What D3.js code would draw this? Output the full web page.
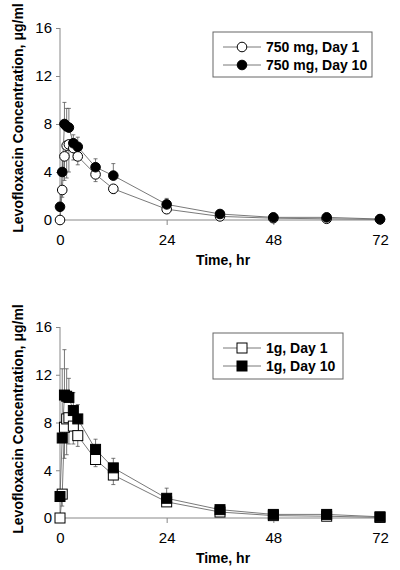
<!DOCTYPE html>
<html><head><meta charset="utf-8">
<script src="https://cdn.jsdelivr.net/npm/d3@7"></script>
<style>
body{margin:0;background:#fff;}
svg{display:block;font-family:"Liberation Sans",Arial,sans-serif;}
</style></head>
<body><svg id="c" width="400" height="570"></svg>
<script>
const times = [0, 0.5, 1, 1.5, 2, 3, 4, 8, 12, 24, 36, 48, 60, 72];
const xTicks = [0, 24, 48, 72];
const yTicks = [0, 4, 8, 12, 16];

const day1_750 = [0, 2.5, 5.3, 6.2, 6.3, 6.0, 5.3, 3.8, 2.6, 0.9, 0.3, 0.15, 0.1, 0.05];
const day10_750 = [1.1, 4.0, 8.0, 7.8, 7.7, 6.4, 6.1, 4.4, 3.7, 1.3, 0.5, 0.22, 0.22, 0.08];
const sd1_750 = [0, 0.6, 2.0, 2.7, 2.3, 1.0, 0.7, 0.6, 0.4, 0.3, 0.1, 0.05, 0.05, 0.03];
const sd10_750 = [0.3, 1.5, 1.8, 1.5, 1.6, 0.7, 0.8, 0.7, 1.0, 0.5, 0.2, 0.1, 0.1, 0.05];

const day1_1g = [0, 2.0, 7.6, 8.3, 8.4, 7.7, 6.9, 4.9, 3.6, 1.35, 0.5, 0.2, 0.15, 0.05];
const day10_1g = [1.8, 6.7, 10.3, 10.2, 10.1, 9.0, 8.3, 5.75, 4.2, 1.65, 0.7, 0.3, 0.3, 0.1];
const sd1_1g = [0, 1.0, 2.6, 3.0, 2.2, 1.5, 0.9, 0.6, 0.8, 0.3, 0.1, 0.05, 0.05, 0.03];
const sd10_1g = [0.5, 5.8, 3.8, 2.3, 1.6, 1.5, 1.2, 0.85, 0.8, 0.85, 0.3, 0.1, 0.1, 0.05];

const legend750 = ["750 mg, Day 1", "750 mg, Day 10"];
const legend1g = ["1g, Day 1", "1g, Day 10"];
const yTitle = "Levofloxacin Concentration, \u03bcg/ml";
const xTitle = "Time, hr";

const svg = d3.select("#c");
const LINE = "#6a6a6a";

function panel(cfg){
  const x = d3.scaleLinear().domain([0,72]).range([60,380]);
  const y = d3.scaleLinear().domain([0,16]).range([cfg.y0, cfg.y16]);
  const g = svg.append("g");

  // y axis
  const ya = g.append("g").attr("transform","translate(60,0)")
    .call(d3.axisLeft(y).tickValues(yTicks).tickSize(4).tickPadding(4));
  ya.select(".domain").attr("stroke","#888").attr("d",`M0,${y(0)}V${y(16)}`);
  ya.selectAll(".tick line").attr("stroke","#888");
  ya.selectAll(".tick text").attr("font-size",15).attr("fill","#000")
    .attr("font-family","'Liberation Sans',Arial,sans-serif");

  // x axis
  const xa = g.append("g").attr("transform",`translate(0,${y(0)})`)
    .call(d3.axisBottom(x).tickValues(xTicks).tickSize(5).tickPadding(9));
  xa.select(".domain").attr("stroke","#888").attr("d",`M${x(0)},0H${x(72)}`);
  xa.selectAll(".tick line").attr("stroke","#888");
  xa.selectAll(".tick text").attr("font-size",15).attr("fill","#000")
    .attr("font-family","'Liberation Sans',Arial,sans-serif");
  xa.selectAll(".tick").filter(d=>d===0).select("line").remove();

  g.append("text").attr("x",223).attr("y",y(0)+45).attr("text-anchor","middle")
    .attr("font-size",14).attr("font-weight","bold").text(xTitle);
  g.append("text").attr("transform",`translate(23,${cfg.tc}) rotate(-90)`)
    .attr("text-anchor","middle").attr("font-size",14).attr("font-weight","bold").text(yTitle);

  const line = d3.line().x(d=>x(d[0])).y(d=>y(d[1]));
  const s1 = times.map((t,i)=>[t,cfg.d1[i],cfg.sd1[i]]);
  const s10 = times.map((t,i)=>[t,cfg.d10[i],cfg.sd10[i]]);

  [s1,s10].forEach(s=>g.append("path").attr("d",line(s)).attr("fill","none")
    .attr("stroke",LINE).attr("stroke-width",0.9));

  // error bars
  function bars(s, dir){
    s.forEach(d=>{
      if(d[2]<=0) return;
      const yv = y(d[1] + dir*d[2]);
      g.append("line").attr("x1",x(d[0])).attr("x2",x(d[0])).attr("y1",y(d[1])).attr("y2",yv)
        .attr("stroke","#555").attr("stroke-width",0.8);
      g.append("line").attr("x1",x(d[0])-2).attr("x2",x(d[0])+2).attr("y1",yv).attr("y2",yv)
        .attr("stroke","#555").attr("stroke-width",0.8);
    });
  }
  bars(s1,-1); bars(s10,1);

  function marker(sel, cx, cy, filled){
    if(cfg.shape==="circle"){
      sel.append("circle").attr("cx",cx).attr("cy",cy).attr("r",4.8)
        .attr("fill",filled?"#000":"#fff").attr("stroke","#000").attr("stroke-width",1);
    } else {
      sel.append("rect").attr("x",cx-5).attr("y",cy-5).attr("width",10).attr("height",10)
        .attr("fill",filled?"#000":"#fff").attr("stroke","#000").attr("stroke-width",1);
    }
  }
  s1.forEach(d=>marker(g,x(d[0]),y(d[1]),false));
  s10.forEach(d=>marker(g,x(d[0]),y(d[1]),true));

  // legend
  const L = cfg.leg;
  g.append("rect").attr("x",L.x).attr("y",L.y).attr("width",L.w).attr("height",L.h)
    .attr("fill","#fff").attr("stroke","#666").attr("stroke-width",1);
  cfg.labels.forEach((lab,i)=>{
    const ly = L.y + 15 + i*18;
    g.append("line").attr("x1",L.x+10).attr("x2",L.x+48).attr("y1",ly).attr("y2",ly)
      .attr("stroke",LINE).attr("stroke-width",0.9);
    marker(g, L.x+29, ly, i===1);
    g.append("text").attr("x",L.x+53).attr("y",ly+5).attr("font-size",14)
      .attr("font-weight","bold").text(lab);
  });
}

panel({y0:220, y16:28, tc:118, d1:day1_750, d10:day10_750, sd1:sd1_750, sd10:sd10_750,
  shape:"circle", labels:legend750, leg:{x:213,y:32,w:159,h:45}});
panel({y0:518, y16:327, tc:419, d1:day1_1g, d10:day10_1g, sd1:sd1_1g, sd10:sd10_1g,
  shape:"square", labels:legend1g, leg:{x:213,y:333,w:130,h:46}});
</script></body></html>
